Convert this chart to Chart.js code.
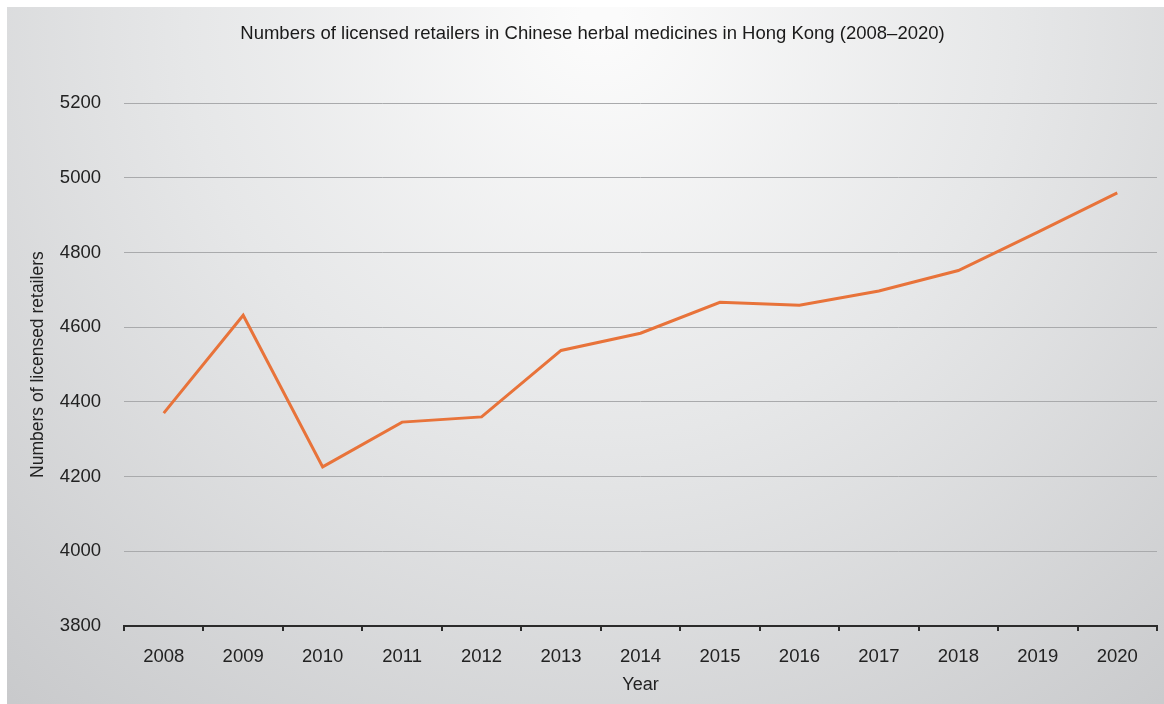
<!DOCTYPE html>
<html>
<head>
<meta charset="utf-8">
<script src="https://cdn.jsdelivr.net/npm/chart.js@4/dist/chart.umd.min.js"></script>
<style>
  html, body { margin: 0; padding: 0; background: #ffffff; }
  #wrap { width: 1164px; height: 704px; }
</style>
</head>
<body>
<div id="wrap"><canvas id="myChart" width="1164" height="704"></canvas></div>
<script>
var years = ['2008', '2009', '2010', '2011', '2012', '2013', '2014', '2015', '2016', '2017', '2018', '2019', '2020'];
var retailers = [4370, 4632, 4226, 4346, 4360, 4538, 4584, 4667, 4659, 4697, 4752, 4855, 4960];
var yTicks = [3800, 4000, 4200, 4400, 4600, 4800, 5000, 5200];

var font = 'Liberation Sans, Arial, Helvetica, sans-serif';

// soft grey backdrop, lighter near the top centre
var backdrop = {
    id: 'backdrop',
    beforeDraw: function (chart) {
        var c = chart.ctx, w = chart.width, h = chart.height;
        c.save();
        c.fillStyle = '#ffffff';
        c.fillRect(0, 0, w, h);
        var g = c.createRadialGradient(600, 20, 20, 600, 20, 900);
        g.addColorStop(0, '#fbfbfb');
        g.addColorStop(0.45, '#e6e7e8');
        g.addColorStop(1, '#c9cacc');
        c.fillStyle = g;
        c.fillRect(7, 7, w - 7, h - 7);
        c.restore();
    }
};

var ctx = document.getElementById('myChart').getContext('2d');
var myChart = new Chart(ctx, {
    type: 'line',
    data: {
        labels: years,
        datasets: [{
            label: 'Numbers of licensed retailers',
            data: retailers,
            borderColor: '#e8733a',
            borderWidth: 3,
            pointRadius: 0,
            tension: 0,
            fill: false
        }]
    },
    plugins: [backdrop],
    options: {
        responsive: false,
        animation: false,
        layout: { padding: { left: 28, right: 7, top: 23, bottom: 8 } },
        plugins: {
            legend: { display: false },
            tooltip: { enabled: false },
            title: {
                display: true,
                text: 'Numbers of licensed retailers in Chinese herbal medicines in Hong Kong (2008\u20132020)',
                color: '#1a1a1a',
                font: { family: font, size: 18.5, weight: 'normal' },
                padding: { top: 0, bottom: 58 }
            }
        },
        scales: {
            x: {
                offset: true,
                afterFit: function (axis) { axis.height = 70; },
                grid: {
                    offset: true,
                    drawOnChartArea: false,
                    color: '#2b2b2b',
                    lineWidth: 2,
                    tickLength: 5
                },
                border: { display: true, color: '#2b2b2b', width: 2 },
                ticks: {
                    color: '#222222',
                    font: { family: font, size: 18.5 },
                    padding: 15,
                    maxRotation: 0
                },
                title: {
                    display: true,
                    text: 'Year',
                    color: '#222222',
                    font: { family: font, size: 18 },
                    padding: { top: 8, bottom: 0 }
                }
            },
            y: {
                min: 3800,
                max: 5200,
                afterFit: function (axis) { axis.width = 96; },
                afterBuildTicks: function (axis) {
                    axis.ticks = yTicks.map(function (v) { return { value: v }; });
                },
                grid: {
                    color: '#a9aaac',
                    lineWidth: 1,
                    drawTicks: false
                },
                border: { display: false },
                ticks: {
                    color: '#222222',
                    font: { family: font, size: 18.5 },
                    padding: 23,
                    callback: function (v) { return String(v); }
                },
                title: {
                    display: true,
                    text: 'Numbers of licensed retailers',
                    color: '#222222',
                    font: { family: font, size: 17.5 },
                    padding: { top: 0, bottom: 12 }
                }
            }
        }
    }
});
</script>
</body>
</html>
